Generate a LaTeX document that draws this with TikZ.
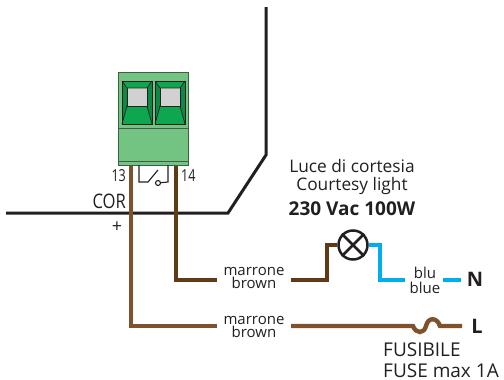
\documentclass[tikz,border=0pt]{standalone}
\usepackage{fontspec}
\setmainfont{Open Sans}
\definecolor{gA}{HTML}{73C383}
\definecolor{gB}{HTML}{0FA650}
\definecolor{gC}{HTML}{0B8A44}
\definecolor{gL}{HTML}{3F5F47}
\definecolor{brL}{HTML}{80522C}
\definecolor{brD}{HTML}{5F3A14}
\definecolor{blueW}{HTML}{00AEEF}
\definecolor{ink}{HTML}{231F20}
\tikzset{
 wireL/.style={brL,line width=4.4pt},
 wireD/.style={brD,line width=4.4pt},
 wireB/.style={blueW,line width=4.4pt},
 mainline/.style={ink,line width=3pt},
 contact/.style={ink,line width=1.1pt},
 lbl/.style={text=ink,inner sep=0pt,font=\fontsize{17.3}{17.3}\selectfont},
 wlbl/.style={text=ink,inner sep=0pt,font=\fontsize{15}{15}\selectfont},
 narrow/.style={xscale=#1,transform shape},
 blk/.style={draw=gL,line width=.8pt,fill=gA},
 scr/.style={draw=ink,line width=.7pt}
}
\newcommand{\screw}[1]{%
 \begin{scope}[xshift=#1pt]
  \fill[gC] (122,81) rectangle (152,124);
  \fill[gB] (127,106) -- (147,106) -- (152,124) -- (122,124) -- cycle;
  \fill[gB] (122,81) -- (152,81) -- (147,88) -- (127,88) -- cycle;
  \fill[black!18] (127,88) rectangle (147,106);
  \draw[scr] (122,81) rectangle (152,124);
  \draw[scr] (122,81) -- (127,88) -- (147,88) -- (152,81);
  \draw[scr] (127,88) -- (127,106) -- (147,106) -- (147,88);
  \draw[scr] (127,106) -- (122,124) (147,106) -- (152,124);
 \end{scope}}
\begin{document}
\begin{tikzpicture}[x=1pt,y=-1pt]
\useasboundingbox (0,0) rectangle (504,380);
% main black line
\coordinate (m1) at (6,213);
\coordinate (m2) at (228,213);
\coordinate (m3) at (266,155);
\coordinate (m4) at (266,7);
\draw[mainline,line join=miter] (m1) -- (m2) -- (m3) -- (m4);
% wires
\coordinate (t13) at (131,165);
\coordinate (c13) at (131,326);
\coordinate (l1) at (217,326);
\coordinate (l2) at (291,326);
\coordinate (f1) at (413,326);
\coordinate (f2) at (440,326);
\coordinate (ln) at (462,326);
\coordinate (t14) at (176,165);
\coordinate (c14) at (176,280);
\coordinate (n1) at (217,280);
\coordinate (n2) at (291,280);
\coordinate (n3) at (327,280);
\coordinate (n4) at (327,245);
\coordinate (b1) at (380,245);
\coordinate (b2) at (380,280);
\coordinate (b3) at (405,280);
\coordinate (b4) at (443,280);
\coordinate (b5) at (461,280);
\node[draw=ink,line width=2.5pt,circle,minimum size=29pt,inner sep=0pt,fill=white] (lamp) at (353,245) {};
\draw[wireL] (t13) -- (c13) -- (l1);
\draw[wireL] (l2) -- (f1) .. controls (416,334) and (424,334) .. (426,326) .. controls (428,317) and (437,317) .. (f2) -- (ln);
\draw[wireD] (t14) -- (c14) -- (n1);
\draw[wireD] (n2) -- (n3) -- (n4) -- (lamp.west);
\draw[wireB] (lamp.east) -- (b1) -- (b2) -- (b3);
\draw[wireB] (b4) -- (b5);
\draw[ink,line width=2.5pt] (lamp.north west) -- (lamp.south east) (lamp.north east) -- (lamp.south west);
% terminal block
\draw[blk] (118,72) rectangle (188,128);
\draw[blk] (118,128) rectangle (188,165);
\draw[gL,line width=.8pt] (118,161) -- (188,161);
\screw{0}
\screw{33}
% relay contact
\coordinate (s1) at (139,165);
\coordinate (s2) at (139,182);
\coordinate (s3) at (148,182);
\coordinate (s4) at (158,170);
\coordinate (s5) at (168,182);
\coordinate (s6) at (168,165);
\draw[contact] (s1) -- (s2) -- (s3) -- (s4);
\node[draw=ink,line width=1.1pt,circle,minimum size=5pt,inner sep=0pt] (sw) at (158,183) {};
\draw[contact] (sw) -- (s5) -- (s6);
% labels
\node[lbl,font=\fontsize{16.5}{16.5}\selectfont,narrow=.76,anchor=east] (n13) at (126,176) {13};
\node[lbl,font=\fontsize{16.5}{16.5}\selectfont,narrow=.76,anchor=west] (n14) at (181,176) {14};
\node[lbl,font=\fontsize{20}{20}\selectfont,narrow=.83,anchor=east] (cor) at (126,201) {COR};
\node[lbl,font=\fontsize{18}{18}\selectfont] (plus) at (117,227) {+};
\node[wlbl] (mb1) at (254,271) {marrone};
\node[wlbl] (mb2) at (254,283) {brown};
\node[wlbl] (mb3) at (254,320) {marrone};
\node[wlbl] (mb4) at (254,332) {brown};
\node[wlbl] (bl1) at (425,273) {blu};
\node[wlbl] (bl2) at (425,288) {blue};
\node[lbl,font=\fontsize{20}{20}\selectfont\bfseries] (N) at (475,279) {N};
\node[lbl,font=\fontsize{20}{20}\selectfont\bfseries] (L) at (477,326) {L};
\node[lbl,font=\fontsize{19}{19}\selectfont,anchor=west] (fu1) at (383,350) {FUSIBILE};
\node[lbl,font=\fontsize{19}{19}\selectfont,anchor=west] (fu2) at (383,371) {FUSE max 1A};
\node[lbl] (t1) at (352,166) {Luce di cortesia};
\node[lbl] (t2) at (352,186) {Courtesy light};
\node[lbl,font=\fontsize{19}{19}\selectfont\bfseries] (t3) at (352,209) {230 Vac 100W};
\end{tikzpicture}
\end{document}
